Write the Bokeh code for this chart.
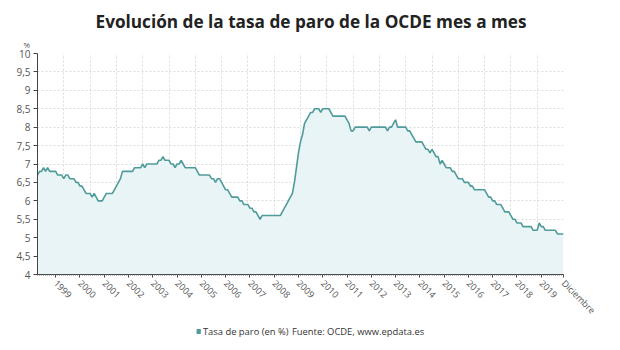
from math import pi

from bokeh.core.properties import value
from bokeh.embed import file_html
from bokeh.layouts import column
from bokeh.models import FixedTicker, Range1d, Title
from bokeh.plotting import figure
from bokeh.resources import INLINE

# Tasa de paro de la OCDE (%), serie mensual de abril de 1998 a diciembre de 2019
paro_1998 = [6.7, 6.8, 6.8, 6.9, 6.8, 6.9, 6.8, 6.8, 6.8]  # abril-diciembre
paro_1999 = [6.8, 6.7, 6.7, 6.7, 6.6, 6.7, 6.7, 6.6, 6.6, 6.6, 6.5, 6.5]
paro_2000 = [6.4, 6.4, 6.3, 6.2, 6.2, 6.2, 6.1, 6.2, 6.1, 6.0, 6.0, 6.0]
paro_2001 = [6.1, 6.2, 6.2, 6.2, 6.2, 6.3, 6.4, 6.5, 6.6, 6.8, 6.8, 6.8]
paro_2002 = [6.8, 6.8, 6.8, 6.9, 6.9, 6.9, 6.9, 7.0, 6.9, 7.0, 7.0, 7.0]
paro_2003 = [7.0, 7.0, 7.0, 7.1, 7.1, 7.2, 7.1, 7.1, 7.1, 7.0, 7.0, 6.9]
paro_2004 = [7.0, 7.0, 7.1, 7.0, 6.9, 6.9, 6.9, 6.9, 6.9, 6.9, 6.8, 6.7]
paro_2005 = [6.7, 6.7, 6.7, 6.7, 6.7, 6.6, 6.6, 6.5, 6.6, 6.6, 6.5, 6.4]
paro_2006 = [6.3, 6.3, 6.2, 6.1, 6.1, 6.1, 6.1, 6.0, 6.0, 5.9, 5.9, 5.9]
paro_2007 = [5.8, 5.8, 5.7, 5.7, 5.6, 5.5, 5.6, 5.6, 5.6, 5.6, 5.6, 5.6]
paro_2008 = [5.6, 5.6, 5.6, 5.6, 5.7, 5.8, 5.9, 6.0, 6.1, 6.2, 6.5, 6.9]
paro_2009 = [7.3, 7.6, 7.8, 8.1, 8.2, 8.3, 8.4, 8.4, 8.5, 8.5, 8.5, 8.4]
paro_2010 = [8.5, 8.5, 8.5, 8.5, 8.4, 8.3, 8.3, 8.3, 8.3, 8.3, 8.3, 8.3]
paro_2011 = [8.2, 8.1, 7.9, 7.9, 8.0, 8.0, 8.0, 8.0, 8.0, 8.0, 8.0, 7.9]
paro_2012 = [8.0, 8.0, 8.0, 8.0, 8.0, 8.0, 8.0, 8.0, 7.9, 8.0, 8.0, 8.1]
paro_2013 = [8.2, 8.0, 8.0, 8.0, 8.0, 8.0, 7.9, 7.9, 7.8, 7.7, 7.6, 7.6]
paro_2014 = [7.6, 7.6, 7.5, 7.4, 7.4, 7.3, 7.4, 7.3, 7.2, 7.2, 7.0, 7.1]
paro_2015 = [7.0, 6.9, 6.9, 6.9, 6.8, 6.8, 6.7, 6.6, 6.6, 6.6, 6.5, 6.5]
paro_2016 = [6.5, 6.4, 6.4, 6.3, 6.3, 6.3, 6.3, 6.3, 6.3, 6.2, 6.1, 6.1]
paro_2017 = [6.0, 6.0, 5.9, 5.9, 5.9, 5.8, 5.7, 5.7, 5.7, 5.6, 5.5, 5.5]
paro_2018 = [5.4, 5.4, 5.4, 5.3, 5.3, 5.3, 5.3, 5.3, 5.2, 5.2, 5.2, 5.4]
paro_2019 = [5.3, 5.3, 5.2, 5.2, 5.2, 5.2, 5.2, 5.2, 5.1, 5.1, 5.1, 5.1]

series_anuales = [
    paro_1998, paro_1999, paro_2000, paro_2001, paro_2002, paro_2003,
    paro_2004, paro_2005, paro_2006, paro_2007, paro_2008, paro_2009,
    paro_2010, paro_2011, paro_2012, paro_2013, paro_2014, paro_2015,
    paro_2016, paro_2017, paro_2018, paro_2019,
]
inicio_anio, inicio_mes = 1998, 4

# Etiquetas del eje horizontal: un rótulo por cada enero y el último mes
etiquetas_anios = ["1999", "2000", "2001", "2002", "2003", "2004", "2005",
                   "2006", "2007", "2008", "2009", "2010", "2011", "2012",
                   "2013", "2014", "2015", "2016", "2017", "2018", "2019"]
etiqueta_final = "Diciembre"

# Eje vertical
y_ticks = [4, 4.5, 5, 5.5, 6, 6.5, 7, 7.5, 8, 8.5, 9, 9.5, 10]
y_labels = ["4", "4,5", "5", "5,5", "6", "6,5", "7", "7,5", "8", "8,5", "9", "9,5", "10"]

# Textos de la leyenda
texto_serie = "Tasa de paro (en %)"
texto_fuente = "Fuente: OCDE, www.epdata.es"

TEAL = "#4f9b9b"
FILL = "#e9f4f6"
GRID = "#dcdcdc"
TXT = "#555555"
FONT = "Open Sans"

# Serie continua e índice de meses
tasa = [v for anio in series_anuales for v in anio]
x = list(range(len(tasa)))
meses = []
a, m = inicio_anio, inicio_mes
for _ in tasa:
    meses.append((a, m))
    m += 1
    if m > 12:
        a, m = a + 1, 1
pos_enero = [i for i, (aa, mm) in enumerate(meses) if mm == 1]
pos_ticks = pos_enero + [x[-1]]
rotulos = dict(zip(pos_ticks, etiquetas_anios + [etiqueta_final]))

W, H_GRAF, H_LEY = 620, 324, 26

p = figure(
    width=W, height=H_GRAF, output_backend="svg", toolbar_location=None, title=None,
    x_range=Range1d(x[0], x[-1]), y_range=Range1d(y_ticks[0], y_ticks[-1]),
    min_border_left=37, min_border_right=57, min_border_top=53, min_border_bottom=49,
)
p.outline_line_color = None
p.background_fill_color = "white"
p.border_fill_color = "white"

# Área bajo la curva y línea de la serie
p.varea(x=x, y1=y_ticks[0], y2=tasa, fill_color=FILL)
p.line(x, tasa, line_color=TEAL, line_width=1.6)

# Rejilla punteada: horizontal en cada marca, vertical en 20 tramos iguales
n_tramos = 20
paso = (x[-1] - x[0]) / n_tramos
p.xgrid.ticker = FixedTicker(ticks=[x[0] + paso * k for k in range(1, n_tramos)])
for g in (p.xgrid, p.ygrid):
    g.grid_line_color = GRID
    g.grid_line_dash = "2 2"
    g.grid_line_width = 1

# Eje X
xa = p.xaxis[0]
xa.ticker = FixedTicker(ticks=pos_ticks, minor_ticks=x)
xa.major_label_overrides = rotulos
xa.major_label_orientation = -pi / 4
xa.major_label_text_font = FONT
xa.major_label_text_font_size = "9px"
xa.major_label_text_color = TXT
xa.major_label_standoff = 4
xa.axis_line_color = "#444444"
xa.major_tick_line_color = "#444444"
xa.major_tick_in = 0
xa.major_tick_out = 3
xa.minor_tick_line_color = "#666666"
xa.minor_tick_in = 0
xa.minor_tick_out = 1

# Eje Y
ya = p.yaxis[0]
ya.ticker = FixedTicker(ticks=y_ticks)
ya.major_label_overrides = dict(zip(y_ticks, y_labels))
ya.major_label_text_font = FONT
ya.major_label_text_font_size = "10px"
ya.major_label_text_color = TXT
ya.major_label_standoff = 3
ya.axis_line_color = "#444444"
ya.major_tick_line_color = "#444444"
ya.major_tick_in = 0
ya.major_tick_out = 4
ya.minor_tick_line_color = None

# Unidad sobre el eje vertical y título (el primero queda junto al gráfico)
p.add_layout(Title(text="%", align="left", offset=-14, standoff=8,
                   text_font=FONT, text_font_size="8px", text_font_style="normal",
                   text_color=TXT), "above")
p.add_layout(Title(text="Evolución de la tasa de paro de la OCDE mes a mes",
                   align="left", offset=58, standoff=0,
                   text_font=FONT, text_font_size="17.2px", text_font_style="bold",
                   text_color="#222222"), "above")

# Franja inferior con la leyenda de la serie y la fuente (coordenadas en píxeles)
ley = figure(
    width=W, height=H_LEY, output_backend="svg", toolbar_location=None, title=None,
    x_range=Range1d(0, W), y_range=Range1d(H_LEY, 0),
    x_axis_type=None, y_axis_type=None, min_border=0,
)
ley.outline_line_color = None
ley.grid.visible = False
fila = 7
ley.rect(x=[190], y=[fila], width=5, height=5, fill_color=TEAL, line_color=None)
ley.text(x=[195, 300], y=[fila, fila], text=[texto_serie, texto_fuente],
         text_font=value(FONT), text_font_size="9.4px", text_color="#333333",
         text_align="left", text_baseline="middle")

open("out.html", "w").write(file_html(column(p, ley, spacing=0), INLINE))
